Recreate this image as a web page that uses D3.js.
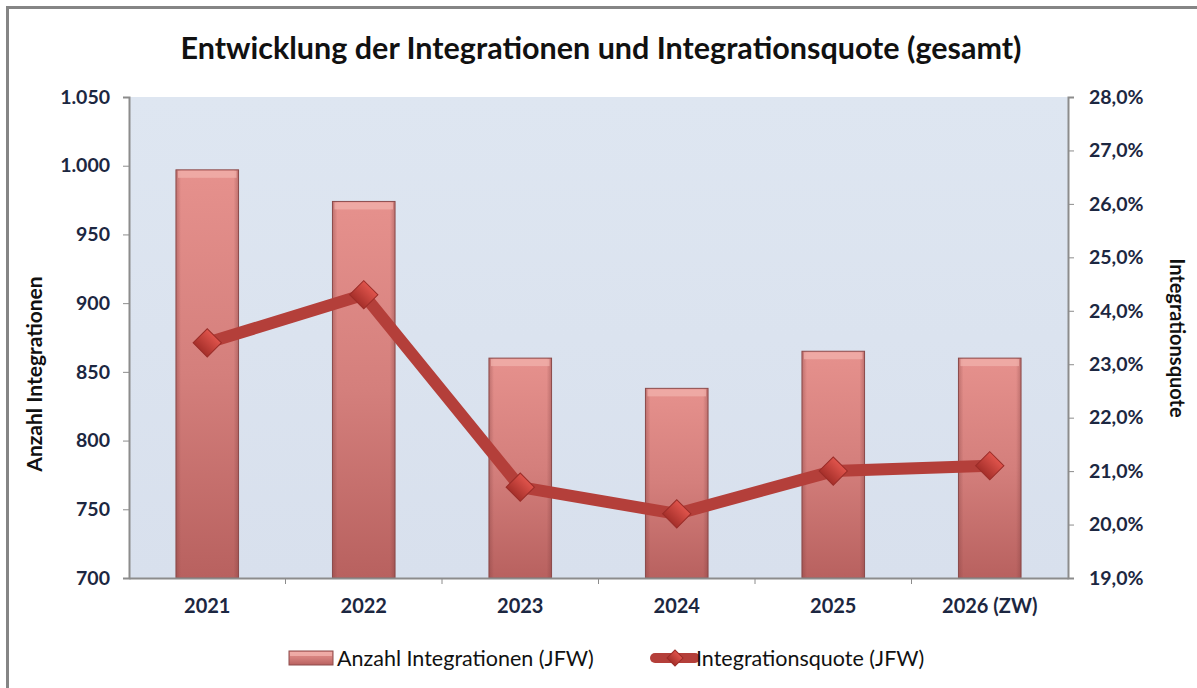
<!DOCTYPE html>
<html>
<head>
<meta charset="utf-8">
<script src="https://cdn.jsdelivr.net/npm/d3@7"></script>
<style>
  body { margin: 0; background: #fff; }
  svg text { font-family: Lato, "Open Sans", sans-serif; }
</style>
</head>
<body>
<svg id="chart" width="1197" height="688"></svg>
<script>
/* ---------------- data ---------------- */
let years = ['2021', '2022', '2023', '2024', '2025', '2026 (ZW)']
let integrations = [997, 974, 860, 838, 865, 860]
let quota = [23.4, 24.3, 20.7, 20.2, 21.0, 21.1]
let leftTicks = [700, 750, 800, 850, 900, 950, 1000, 1050]
let rightTicks = [19, 20, 21, 22, 23, 24, 25, 26, 27, 28]

let de = d3.formatLocale({ decimal: ',', thousands: '.', grouping: [3], currency: ['', ' €'] })
let fmtNum = de.format(',d')
let fmtPct = v => de.format('.1f')(v) + '%'

/* ---------------- layout ---------------- */
let svg = d3.select('#chart')
let plot = { left: 129, right: 1068, top: 97, bottom: 578 }
let textColor = '#1c2741'
let axisColor = '#8c8c8c'

let x = d3.scaleBand().domain(years).range([plot.left, plot.right]).paddingInner(0.6).paddingOuter(0.3)
let xEdges = d3.scaleBand().domain(years).range([plot.left, plot.right]).padding(0)
let yLeft = d3.scaleLinear().domain([700, 1050]).range([plot.bottom, plot.top])
let yRight = d3.scaleLinear().domain([19, 28]).range([plot.bottom, plot.top])

/* ---------------- gradients ---------------- */
let defs = svg.append('defs')
let bg = defs.append('linearGradient').attr('id', 'bgGrad').attr('x1', 0).attr('x2', 0).attr('y1', 0).attr('y2', 1)
bg.append('stop').attr('offset', 0).attr('stop-color', '#dee6f1')
bg.append('stop').attr('offset', 1).attr('stop-color', '#d8e0ed')

let barGrad = defs.append('linearGradient').attr('id', 'barGrad').attr('x1', 0).attr('x2', 0).attr('y1', 0).attr('y2', 1)
barGrad.append('stop').attr('offset', 0).attr('stop-color', '#e6918d')
barGrad.append('stop').attr('offset', 0.5).attr('stop-color', '#d47f7c')
barGrad.append('stop').attr('offset', 1).attr('stop-color', '#b8615f')

let barSide = defs.append('linearGradient').attr('id', 'barSide').attr('x1', 0).attr('x2', 1).attr('y1', 0).attr('y2', 0)
barSide.append('stop').attr('offset', 0).attr('stop-color', '#7a3a3a').attr('stop-opacity', 0.35)
barSide.append('stop').attr('offset', 0.08).attr('stop-color', '#7a3a3a').attr('stop-opacity', 0)
barSide.append('stop').attr('offset', 0.92).attr('stop-color', '#7a3a3a').attr('stop-opacity', 0)
barSide.append('stop').attr('offset', 1).attr('stop-color', '#7a3a3a').attr('stop-opacity', 0.35)

let markGrad = defs.append('linearGradient').attr('id', 'markGrad').attr('x1', 0).attr('x2', 0).attr('y1', 0).attr('y2', 1)
markGrad.append('stop').attr('offset', 0).attr('stop-color', '#e0544c')
markGrad.append('stop').attr('offset', 1).attr('stop-color', '#a52f2a')

/* ---------------- frame ---------------- */
svg.append('path')
    .attr('d', 'M7.5,688 V7.5 H1197')
    .attr('fill', 'none').attr('stroke', '#858585').attr('stroke-width', 3)

/* ---------------- title ---------------- */
svg.append('text')
    .attr('x', 601).attr('y', 59)
    .attr('text-anchor', 'middle')
    .attr('font-size', 30.5).attr('font-weight', 'bold').attr('fill', '#111')
    .text('Entwicklung der Integrationen und Integrationsquote (gesamt)')

/* ---------------- plot area ---------------- */
svg.append('rect')
    .attr('x', plot.left).attr('y', plot.top)
    .attr('width', plot.right - plot.left).attr('height', plot.bottom - plot.top)
    .attr('fill', 'url(#bgGrad)')

/* ---------------- bars ---------------- */
let bars = svg.append('g').selectAll('g').data(years).enter().append('g')
bars.append('rect')
    .attr('x', d => x(d))
    .attr('y', (d, i) => yLeft(integrations[i]))
    .attr('width', x.bandwidth())
    .attr('height', (d, i) => yLeft(700) - yLeft(integrations[i]))
    .attr('fill', 'url(#barGrad)')
    .attr('stroke', '#8e4d4d').attr('stroke-width', 1)
bars.append('rect')
    .attr('x', d => x(d))
    .attr('y', (d, i) => yLeft(integrations[i]))
    .attr('width', x.bandwidth())
    .attr('height', (d, i) => yLeft(700) - yLeft(integrations[i]))
    .attr('fill', 'url(#barSide)')
bars.append('rect')
    .attr('x', d => x(d) + 2)
    .attr('y', (d, i) => yLeft(integrations[i]) + 1)
    .attr('width', x.bandwidth() - 4)
    .attr('height', 7)
    .attr('fill', '#f2b3ae').attr('opacity', 0.7)

/* ---------------- axes ---------------- */
let gl = svg.append('g').attr('transform', 'translate(' + plot.left + ',0)')
    .call(d3.axisLeft(yLeft).tickValues(leftTicks).tickFormat(fmtNum).tickSize(6).tickPadding(13))
let gr = svg.append('g').attr('transform', 'translate(' + plot.right + ',0)')
    .call(d3.axisRight(yRight).tickValues(rightTicks).tickFormat(fmtPct).tickSize(6).tickPadding(15))
let gb = svg.append('g').attr('transform', 'translate(0,' + plot.bottom + ')')
    .call(d3.axisBottom(xEdges).tickSize(0).tickPadding(21))

// category separators at band edges
gb.selectAll('.sep').data(years.slice(1)).enter().append('line')
    .attr('class', 'sep')
    .attr('x1', d => xEdges(d)).attr('x2', d => xEdges(d))
    .attr('y1', 0).attr('y2', 6)
    .attr('stroke', axisColor)

for (let g of [gl, gr, gb]) {
    g.select('.domain').attr('stroke', axisColor).attr('stroke-width', 2)
    g.selectAll('.tick line').attr('stroke', axisColor)
    g.selectAll('.tick text')
        .attr('font-family', 'Lato, sans-serif')
        .attr('font-size', 19.5).attr('font-weight', 'bold').attr('fill', textColor)
}
gb.selectAll('.tick text').attr('font-size', 20)

/* ---------------- axis titles ---------------- */
svg.append('text')
    .attr('transform', 'translate(42,374) rotate(-90)')
    .attr('text-anchor', 'middle')
    .attr('font-size', 21).attr('font-weight', 'bold').attr('fill', '#111')
    .text('Anzahl Integrationen')
svg.append('text')
    .attr('transform', 'translate(1170,338) rotate(90)')
    .attr('text-anchor', 'middle')
    .attr('font-size', 20).attr('font-weight', 'bold').attr('fill', '#111')
    .text('Integrationsquote')

/* ---------------- line ---------------- */
let lineGen = d3.line()
    .x((d, i) => x(years[i]) + x.bandwidth() / 2)
    .y(d => yRight(d))
svg.append('path')
    .datum(quota)
    .attr('d', lineGen)
    .attr('fill', 'none')
    .attr('stroke', '#b43f3a').attr('stroke-width', 12)
    .attr('stroke-linejoin', 'round')

let diamond = d3.symbol().type(d3.symbolSquare).size(400)
svg.append('g').selectAll('path').data(quota).enter().append('path')
    .attr('d', diamond)
    .attr('transform', (d, i) => 'translate(' + (x(years[i]) + x.bandwidth() / 2) + ',' + yRight(d) + ') rotate(45)')
    .attr('fill', 'url(#markGrad)')
    .attr('stroke', '#9a2c28').attr('stroke-width', 1)

/* ---------------- legend ---------------- */
let legend = svg.append('g').attr('transform', 'translate(0,658)')
legend.append('rect')
    .attr('x', 289).attr('y', -7).attr('width', 44).attr('height', 14)
    .attr('fill', 'url(#barGrad)').attr('stroke', '#8e4d4d')
legend.append('rect')
    .attr('x', 290).attr('y', -6).attr('width', 42).attr('height', 4)
    .attr('fill', '#f2b3ae').attr('opacity', 0.8)
legend.append('text')
    .attr('x', 337).attr('y', 0).attr('dy', '0.35em')
    .attr('font-size', 21.5).attr('fill', '#111')
    .text('Anzahl Integrationen (JFW)')

legend.append('line')
    .attr('x1', 655).attr('x2', 695).attr('y1', 0).attr('y2', 0)
    .attr('stroke', '#b43f3a').attr('stroke-width', 10).attr('stroke-linecap', 'round')
legend.append('path')
    .attr('d', d3.symbol().type(d3.symbolSquare).size(130))
    .attr('transform', 'translate(675,0) rotate(45)')
    .attr('fill', 'url(#markGrad)').attr('stroke', '#9a2c28')
legend.append('text')
    .attr('x', 696).attr('y', 0).attr('dy', '0.35em')
    .attr('font-size', 21.5).attr('fill', '#111')
    .text('Integrationsquote (JFW)')
</script>
</body>
</html>
